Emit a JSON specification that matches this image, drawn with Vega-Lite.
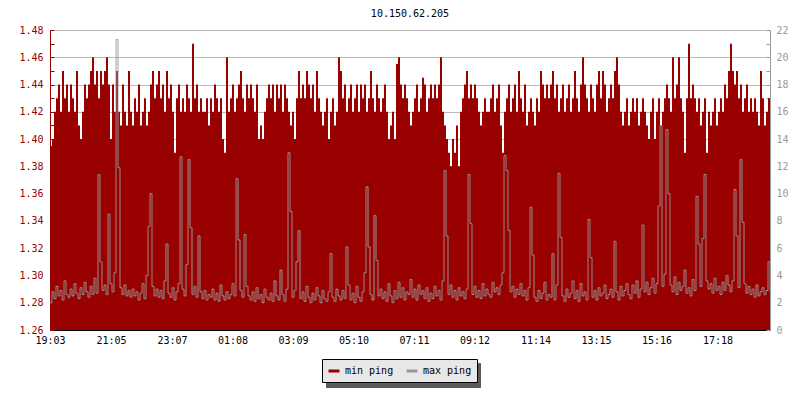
{
"$schema": "https://vega.github.io/schema/vega-lite/v6.json",
"width": 720, "height": 300,
"autosize": {"type": "none"},
"padding": {"left": 50, "top": 30, "right": 30, "bottom": 70},
"background": "white",
"title": {"text": "10.150.62.205", "font": "DejaVu Sans Mono", "fontSize": 10, "fontWeight": "normal", "color": "black", "offset": 6, "anchor": "middle"},
"config": {"view": {"stroke": null}, "axis": {"labelFont": "DejaVu Sans Mono", "labelFontSize": 10, "zindex": 1}},
"data": {"values": [
{"t":0,"a":1.395,"b":2.0},{"t":4,"a":1.40,"b":2.8},{"t":8,"a":1.42,"b":2.3},{"t":12,"a":1.43,"b":3.2},{"t":16,"a":1.44,"b":2.5},{"t":20,"a":1.42,"b":2.9},{"t":24,"a":1.45,"b":2.2},{"t":28,"a":1.43,"b":3.6},{"t":32,"a":1.44,"b":2.6},{"t":36,"a":1.42,"b":2.4},
{"t":40,"a":1.44,"b":3.0},{"t":44,"a":1.43,"b":2.5},{"t":48,"a":1.42,"b":3.4},{"t":52,"a":1.45,"b":2.7},{"t":56,"a":1.41,"b":2.3},{"t":60,"a":1.40,"b":3.1},{"t":64,"a":1.42,"b":2.6},{"t":68,"a":1.44,"b":3.5},{"t":72,"a":1.43,"b":2.8},{"t":76,"a":1.44,"b":2.4},
{"t":80,"a":1.45,"b":3.2},{"t":84,"a":1.46,"b":2.6},{"t":88,"a":1.44,"b":3.8},{"t":92,"a":1.45,"b":2.7},{"t":96,"a":1.43,"b":11.4},{"t":100,"a":1.45,"b":5.0},{"t":104,"a":1.44,"b":2.9},{"t":108,"a":1.45,"b":3.3},{"t":112,"a":1.46,"b":2.6},{"t":116,"a":1.44,"b":8.5},
{"t":120,"a":1.40,"b":3.4},{"t":124,"a":1.44,"b":2.8},{"t":128,"a":1.42,"b":4.2},{"t":132,"a":1.45,"b":21.3},{"t":136,"a":1.42,"b":11.9},{"t":140,"a":1.41,"b":3.1},{"t":144,"a":1.44,"b":2.6},{"t":148,"a":1.42,"b":3.3},{"t":152,"a":1.41,"b":2.5},{"t":156,"a":1.45,"b":2.9},
{"t":160,"a":1.42,"b":2.4},{"t":164,"a":1.41,"b":3.0},{"t":168,"a":1.43,"b":2.5},{"t":172,"a":1.42,"b":2.8},{"t":176,"a":1.44,"b":2.2},{"t":180,"a":1.41,"b":2.7},{"t":184,"a":1.42,"b":3.4},{"t":188,"a":1.43,"b":2.3},{"t":192,"a":1.41,"b":4.0},{"t":196,"a":1.42,"b":7.6},
{"t":200,"a":1.44,"b":10.0},{"t":204,"a":1.45,"b":3.2},{"t":208,"a":1.43,"b":2.5},{"t":212,"a":1.44,"b":3.0},{"t":216,"a":1.45,"b":2.4},{"t":220,"a":1.43,"b":2.9},{"t":224,"a":1.44,"b":2.3},{"t":228,"a":1.42,"b":3.6},{"t":232,"a":1.45,"b":6.3},{"t":236,"a":1.43,"b":2.7},
{"t":240,"a":1.44,"b":2.4},{"t":244,"a":1.42,"b":3.1},{"t":248,"a":1.39,"b":2.2},{"t":252,"a":1.43,"b":2.8},{"t":256,"a":1.44,"b":3.4},{"t":260,"a":1.42,"b":12.7},{"t":264,"a":1.43,"b":3.0},{"t":268,"a":1.42,"b":2.5},{"t":272,"a":1.44,"b":4.8},{"t":276,"a":1.43,"b":12.5},
{"t":280,"a":1.42,"b":7.5},{"t":284,"a":1.47,"b":2.6},{"t":288,"a":1.43,"b":3.2},{"t":292,"a":1.44,"b":2.4},{"t":296,"a":1.42,"b":6.9},{"t":300,"a":1.43,"b":2.8},{"t":304,"a":1.42,"b":2.3},{"t":308,"a":1.42,"b":2.9},{"t":312,"a":1.43,"b":2.2},{"t":316,"a":1.41,"b":2.6},
{"t":320,"a":1.43,"b":2.4},{"t":324,"a":1.42,"b":3.0},{"t":328,"a":1.44,"b":2.2},{"t":332,"a":1.43,"b":2.7},{"t":336,"a":1.42,"b":2.1},{"t":340,"a":1.43,"b":3.3},{"t":344,"a":1.40,"b":2.5},{"t":348,"a":1.39,"b":2.2},{"t":352,"a":1.46,"b":2.8},{"t":356,"a":1.42,"b":2.3},
{"t":360,"a":1.43,"b":2.6},{"t":364,"a":1.44,"b":3.4},{"t":368,"a":1.42,"b":2.5},{"t":372,"a":1.43,"b":11.1},{"t":376,"a":1.44,"b":6.6},{"t":380,"a":1.45,"b":2.9},{"t":384,"a":1.43,"b":2.4},{"t":388,"a":1.42,"b":7.0},{"t":392,"a":1.44,"b":3.2},{"t":396,"a":1.43,"b":2.5},
{"t":400,"a":1.44,"b":2.2},{"t":404,"a":1.43,"b":2.8},{"t":408,"a":1.42,"b":2.1},{"t":412,"a":1.44,"b":3.1},{"t":416,"a":1.40,"b":2.3},{"t":420,"a":1.41,"b":2.6},{"t":424,"a":1.40,"b":2.0},{"t":428,"a":1.42,"b":3.0},{"t":432,"a":1.43,"b":2.4},{"t":436,"a":1.44,"b":2.2},
{"t":440,"a":1.43,"b":2.7},{"t":444,"a":1.44,"b":2.1},{"t":448,"a":1.42,"b":3.6},{"t":452,"a":1.44,"b":2.5},{"t":456,"a":1.43,"b":2.2},{"t":460,"a":1.44,"b":4.4},{"t":464,"a":1.42,"b":2.6},{"t":468,"a":1.44,"b":2.1},{"t":472,"a":1.43,"b":3.0},{"t":476,"a":1.42,"b":13.0},
{"t":480,"a":1.41,"b":8.7},{"t":484,"a":1.42,"b":2.4},{"t":488,"a":1.40,"b":2.9},{"t":492,"a":1.43,"b":5.0},{"t":496,"a":1.45,"b":7.3},{"t":500,"a":1.43,"b":2.3},{"t":504,"a":1.44,"b":2.8},{"t":508,"a":1.43,"b":2.1},{"t":512,"a":1.45,"b":3.2},{"t":516,"a":1.44,"b":2.4},
{"t":520,"a":1.43,"b":2.0},{"t":524,"a":1.44,"b":2.7},{"t":528,"a":1.42,"b":2.2},{"t":532,"a":1.45,"b":3.1},{"t":536,"a":1.43,"b":2.5},{"t":540,"a":1.42,"b":2.0},{"t":544,"a":1.41,"b":2.9},{"t":548,"a":1.42,"b":2.3},{"t":552,"a":1.43,"b":2.1},{"t":556,"a":1.40,"b":2.8},
{"t":560,"a":1.42,"b":5.6},{"t":564,"a":1.43,"b":2.4},{"t":568,"a":1.41,"b":2.1},{"t":572,"a":1.42,"b":3.0},{"t":576,"a":1.46,"b":2.5},{"t":580,"a":1.45,"b":2.2},{"t":584,"a":1.43,"b":2.9},{"t":588,"a":1.44,"b":2.3},{"t":592,"a":1.42,"b":6.1},{"t":596,"a":1.43,"b":3.3},
{"t":600,"a":1.44,"b":2.2},{"t":604,"a":1.42,"b":2.7},{"t":608,"a":1.43,"b":2.0},{"t":612,"a":1.44,"b":3.2},{"t":616,"a":1.42,"b":2.4},{"t":620,"a":1.44,"b":2.1},{"t":624,"a":1.43,"b":2.8},{"t":628,"a":1.44,"b":4.2},{"t":632,"a":1.42,"b":10.5},{"t":636,"a":1.43,"b":6.1},
{"t":640,"a":1.45,"b":2.6},{"t":644,"a":1.43,"b":2.2},{"t":648,"a":1.42,"b":8.4},{"t":652,"a":1.44,"b":5.1},{"t":656,"a":1.43,"b":2.5},{"t":660,"a":1.42,"b":3.0},{"t":664,"a":1.43,"b":2.3},{"t":668,"a":1.44,"b":2.8},{"t":672,"a":1.42,"b":2.1},{"t":676,"a":1.40,"b":3.4},
{"t":680,"a":1.41,"b":2.5},{"t":684,"a":1.42,"b":2.0},{"t":688,"a":1.40,"b":2.9},{"t":692,"a":1.455,"b":2.3},{"t":696,"a":1.46,"b":3.5},{"t":700,"a":1.44,"b":2.4},{"t":704,"a":1.43,"b":3.1},{"t":708,"a":1.44,"b":2.2},{"t":712,"a":1.43,"b":2.8},{"t":716,"a":1.42,"b":2.6},
{"t":720,"a":1.41,"b":3.7},{"t":724,"a":1.42,"b":2.4},{"t":728,"a":1.43,"b":3.0},{"t":732,"a":1.44,"b":2.2},{"t":736,"a":1.42,"b":3.3},{"t":740,"a":1.43,"b":2.6},{"t":744,"a":1.445,"b":2.9},{"t":748,"a":1.44,"b":2.3},{"t":752,"a":1.42,"b":3.1},{"t":756,"a":1.43,"b":2.1},
{"t":760,"a":1.44,"b":2.7},{"t":764,"a":1.43,"b":2.3},{"t":768,"a":1.44,"b":3.2},{"t":772,"a":1.43,"b":2.5},{"t":776,"a":1.44,"b":2.9},{"t":780,"a":1.46,"b":2.2},{"t":784,"a":1.42,"b":3.6},{"t":788,"a":1.41,"b":11.7},{"t":792,"a":1.40,"b":6.9},{"t":796,"a":1.39,"b":2.6},
{"t":800,"a":1.38,"b":3.3},{"t":804,"a":1.40,"b":2.4},{"t":808,"a":1.39,"b":2.9},{"t":812,"a":1.41,"b":2.2},{"t":816,"a":1.38,"b":3.1},{"t":820,"a":1.42,"b":2.5},{"t":824,"a":1.43,"b":2.8},{"t":828,"a":1.44,"b":2.3},{"t":832,"a":1.45,"b":3.0},{"t":836,"a":1.43,"b":11.4},
{"t":840,"a":1.44,"b":7.8},{"t":844,"a":1.43,"b":2.6},{"t":848,"a":1.44,"b":3.2},{"t":852,"a":1.43,"b":2.4},{"t":856,"a":1.42,"b":2.9},{"t":860,"a":1.41,"b":2.3},{"t":864,"a":1.42,"b":3.4},{"t":868,"a":1.43,"b":2.5},{"t":872,"a":1.42,"b":3.0},{"t":876,"a":1.42,"b":2.6},
{"t":880,"a":1.43,"b":2.4},{"t":884,"a":1.44,"b":3.5},{"t":888,"a":1.42,"b":2.8},{"t":892,"a":1.43,"b":3.1},{"t":896,"a":1.44,"b":2.6},{"t":900,"a":1.41,"b":3.3},{"t":904,"a":1.39,"b":4.2},{"t":908,"a":1.42,"b":12.8},{"t":912,"a":1.43,"b":11.7},{"t":916,"a":1.44,"b":7.3},
{"t":920,"a":1.42,"b":2.8},{"t":924,"a":1.43,"b":3.2},{"t":928,"a":1.44,"b":2.4},{"t":932,"a":1.42,"b":3.0},{"t":936,"a":1.45,"b":2.6},{"t":940,"a":1.43,"b":3.4},{"t":944,"a":1.42,"b":2.5},{"t":948,"a":1.44,"b":2.9},{"t":952,"a":1.41,"b":2.2},{"t":956,"a":1.42,"b":3.1},
{"t":960,"a":1.43,"b":9.0},{"t":964,"a":1.42,"b":5.5},{"t":968,"a":1.41,"b":2.4},{"t":972,"a":1.43,"b":2.1},{"t":976,"a":1.42,"b":2.9},{"t":980,"a":1.45,"b":2.3},{"t":984,"a":1.44,"b":2.7},{"t":988,"a":1.43,"b":3.5},{"t":992,"a":1.44,"b":2.2},{"t":996,"a":1.43,"b":2.6},
{"t":1000,"a":1.44,"b":2.4},{"t":1004,"a":1.45,"b":5.6},{"t":1008,"a":1.43,"b":2.2},{"t":1012,"a":1.44,"b":3.3},{"t":1016,"a":1.42,"b":11.5},{"t":1020,"a":1.43,"b":6.8},{"t":1024,"a":1.44,"b":2.5},{"t":1028,"a":1.42,"b":2.1},{"t":1032,"a":1.43,"b":3.0},{"t":1036,"a":1.44,"b":2.4},
{"t":1040,"a":1.42,"b":2.7},{"t":1044,"a":1.43,"b":3.6},{"t":1048,"a":1.45,"b":2.3},{"t":1052,"a":1.43,"b":2.9},{"t":1056,"a":1.42,"b":2.1},{"t":1060,"a":1.44,"b":3.4},{"t":1064,"a":1.46,"b":2.5},{"t":1068,"a":1.44,"b":2.8},{"t":1072,"a":1.43,"b":2.2},{"t":1076,"a":1.42,"b":8.1},
{"t":1080,"a":1.44,"b":5.3},{"t":1084,"a":1.43,"b":2.4},{"t":1088,"a":1.42,"b":2.9},{"t":1092,"a":1.44,"b":2.2},{"t":1096,"a":1.45,"b":3.1},{"t":1100,"a":1.43,"b":2.5},{"t":1104,"a":1.45,"b":2.7},{"t":1108,"a":1.44,"b":3.3},{"t":1112,"a":1.42,"b":2.3},{"t":1116,"a":1.43,"b":2.6},
{"t":1120,"a":1.44,"b":3.0},{"t":1124,"a":1.43,"b":2.4},{"t":1128,"a":1.45,"b":6.5},{"t":1132,"a":1.46,"b":2.8},{"t":1136,"a":1.44,"b":2.2},{"t":1140,"a":1.42,"b":3.2},{"t":1144,"a":1.41,"b":2.5},{"t":1148,"a":1.42,"b":2.9},{"t":1152,"a":1.43,"b":3.4},{"t":1156,"a":1.41,"b":2.6},
{"t":1160,"a":1.42,"b":2.3},{"t":1164,"a":1.43,"b":3.3},{"t":1168,"a":1.42,"b":2.7},{"t":1172,"a":1.43,"b":3.6},{"t":1176,"a":1.41,"b":2.4},{"t":1180,"a":1.42,"b":3.0},{"t":1184,"a":1.43,"b":7.7},{"t":1188,"a":1.42,"b":2.8},{"t":1192,"a":1.41,"b":3.5},{"t":1196,"a":1.40,"b":2.6},
{"t":1200,"a":1.42,"b":3.1},{"t":1204,"a":1.43,"b":3.8},{"t":1208,"a":1.40,"b":2.7},{"t":1212,"a":1.42,"b":3.4},{"t":1216,"a":1.43,"b":9.1},{"t":1220,"a":1.41,"b":15.0},{"t":1224,"a":1.42,"b":3.2},{"t":1228,"a":1.43,"b":4.1},{"t":1232,"a":1.44,"b":14.7},{"t":1236,"a":1.43,"b":10.0},
{"t":1240,"a":1.42,"b":3.3},{"t":1244,"a":1.46,"b":2.8},{"t":1248,"a":1.43,"b":3.9},{"t":1252,"a":1.44,"b":2.6},{"t":1256,"a":1.46,"b":3.5},{"t":1260,"a":1.43,"b":2.9},{"t":1264,"a":1.42,"b":3.2},{"t":1268,"a":1.39,"b":4.4},{"t":1272,"a":1.43,"b":2.7},{"t":1276,"a":1.47,"b":3.1},
{"t":1280,"a":1.43,"b":2.5},{"t":1284,"a":1.44,"b":3.7},{"t":1288,"a":1.43,"b":2.9},{"t":1292,"a":1.42,"b":9.8},{"t":1296,"a":1.43,"b":6.3},{"t":1300,"a":1.41,"b":3.2},{"t":1304,"a":1.42,"b":6.7},{"t":1308,"a":1.43,"b":11.4},{"t":1312,"a":1.39,"b":3.6},{"t":1316,"a":1.42,"b":3.0},
{"t":1320,"a":1.41,"b":3.4},{"t":1324,"a":1.42,"b":2.7},{"t":1328,"a":1.43,"b":3.8},{"t":1332,"a":1.41,"b":2.9},{"t":1336,"a":1.42,"b":3.2},{"t":1340,"a":1.43,"b":2.6},{"t":1344,"a":1.42,"b":3.5},{"t":1348,"a":1.44,"b":2.9},{"t":1352,"a":1.43,"b":4.0},{"t":1356,"a":1.45,"b":3.3},
{"t":1360,"a":1.47,"b":2.8},{"t":1364,"a":1.45,"b":3.6},{"t":1368,"a":1.44,"b":10.3},{"t":1372,"a":1.45,"b":6.9},{"t":1376,"a":1.43,"b":3.1},{"t":1380,"a":1.44,"b":12.5},{"t":1384,"a":1.42,"b":7.9},{"t":1388,"a":1.43,"b":3.4},{"t":1392,"a":1.44,"b":2.7},{"t":1396,"a":1.42,"b":3.2},
{"t":1400,"a":1.43,"b":2.6},{"t":1404,"a":1.42,"b":3.0},{"t":1408,"a":1.43,"b":2.4},{"t":1412,"a":1.42,"b":3.3},{"t":1416,"a":1.41,"b":2.5},{"t":1420,"a":1.45,"b":2.8},{"t":1424,"a":1.43,"b":3.1},{"t":1428,"a":1.41,"b":2.6},{"t":1432,"a":1.42,"b":2.9},{"t":1436,"a":1.43,"b":5.0},
{"t":1440,"a":1.43,"b":2.8}
]},
"encoding": {
  "x": {"field": "t", "type": "quantitative",
    "scale": {"domain": [0, 1440], "nice": false, "zero": false},
    "axis": {"values": [0,122,244,365,486,607,728,849,971,1092,1213,1335],
      "labelExpr": "format(floor(((datum.value+1143)%1440)/60),'02d') + ':' + format((datum.value+1143)%60,'02d')",
      "title": null, "grid": false, "domainColor": "black", "tickColor": "black", "labelColor": "black",
      "tickSize": -5, "labelPadding": 10, "labelOverlap": false, "labelFlush": false}}
},
"layer": [
  {"mark": {"type": "area", "interpolate": "step-after", "clip": true},
   "encoding": {
     "y": {"field": "a", "type": "quantitative",
       "scale": {"domain": [1.26, 1.48], "nice": false, "zero": false},
       "axis": {"orient": "left", "title": null,
         "values": [1.26,1.27,1.28,1.29,1.30,1.31,1.32,1.33,1.34,1.35,1.36,1.37,1.38,1.39,1.40,1.41,1.42,1.43,1.44,1.45,1.46,1.47,1.48],
         "labelExpr": "round(datum.value*100) % 2 == 0 ? format(datum.value, '.2f') : ''",
         "grid": true, "gridColor": "#bbbbbb",
         "gridOpacity": {"condition": {"test": "round(datum.value*100) % 2 == 0", "value": 1}, "value": 0},
         "domainColor": "#990000", "tickColor": "#990000", "labelColor": "#990000",
         "tickSize": -4, "labelPadding": 11, "labelOverlap": false}},
     "y2": {"datum": 1.26},
     "color": {"datum": "min ping", "type": "nominal",
       "scale": {"domain": ["min ping", "max ping"], "range": ["#990000", "#999999"]},
       "legend": {"title": null, "orient": "none", "legendX": 272, "legendY": 329, "direction": "horizontal", "zindex": 2,
         "fillColor": "#e8e8e8", "strokeColor": "black", "padding": 5,
         "symbolType": "stroke", "symbolSize": 121, "symbolStrokeWidth": 3,
         "labelFont": "DejaVu Sans Mono", "labelFontSize": 10, "labelColor": "black",
         "labelOffset": 4, "columnPadding": 6,
         "labelExpr": "datum.label == 'max ping' ? 'max ping  ' : datum.label",
         "encode": {"symbols": {"update": {"stroke": {"scale": "color", "field": "value"}, "fill": {"value": "transparent"}, "strokeWidth": {"value": 3}}}}}}
   }},
  {"mark": {"type": "line", "interpolate": "step-after", "strokeWidth": 1, "clip": true},
   "encoding": {
     "y": {"field": "b", "type": "quantitative",
       "scale": {"domain": [0, 22], "nice": false, "zero": false},
       "axis": {"orient": "right", "title": null,
         "values": [0,1,2,3,4,5,6,7,8,9,10,11,12,13,14,15,16,17,18,19,20,21,22],
         "labelExpr": "datum.value % 2 == 0 ? datum.label : ''",
         "grid": false, "domainColor": "#999999", "tickColor": "#999999", "labelColor": "#999999",
         "tickSize": -4, "labelPadding": 10, "labelOverlap": false}},
     "color": {"datum": "max ping", "type": "nominal"},
     "strokeDash": {"datum": "sa", "type": "nominal",
       "scale": {"domain": ["sa", "sb"], "range": [[1, 0], [1, 0]]},
       "legend": {"title": null, "orient": "none", "legendX": 276, "legendY": 333, "direction": "horizontal", "zindex": 0,
         "fillColor": "#5a5a5a", "strokeColor": "#5a5a5a", "padding": 5,
         "symbolType": "square", "symbolSize": 196, "symbolOpacity": 0, "symbolStrokeWidth": 0,
         "labelFont": "DejaVu Sans Mono", "labelFontSize": 10, "labelOpacity": 0,
         "labelOffset": 4, "columnPadding": 108,
         "labelExpr": "''"}}
   }}
],
"resolve": {"scale": {"y": "independent"}}
}
